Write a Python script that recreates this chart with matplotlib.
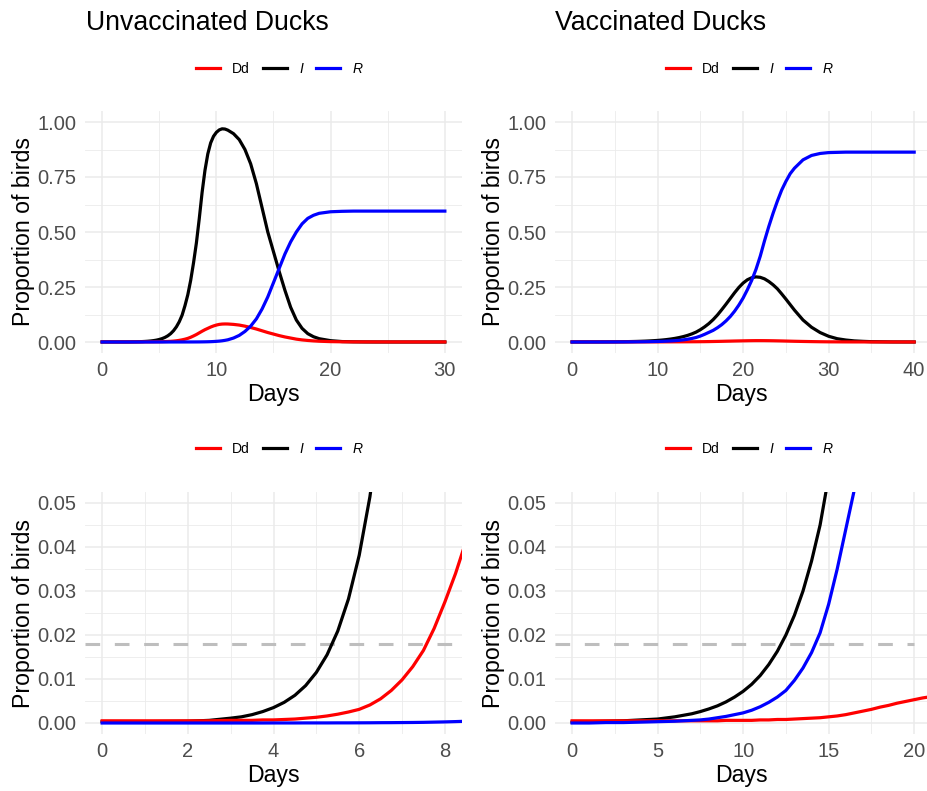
import matplotlib.pyplot as plt
from matplotlib.lines import Line2D
from matplotlib.ticker import FormatStrFormatter

plt.rcParams['font.family'] = ['Liberation Sans', 'DejaVu Sans']

# --- data ---
days_unvax = [0, 1, 2, 2.5,
              3, 3.25, 3.5, 3.75, 4, 4.25, 4.5, 4.75, 5, 5.25, 5.5, 5.75,
              6, 6.25, 6.5, 6.75, 7, 7.25, 7.5, 7.75, 8, 8.25, 8.5, 8.75,
              9, 9.25, 9.5, 9.75, 10, 10.25, 10.5, 10.75, 11,
              11.5, 12, 12.5, 13, 13.5, 14, 14.5, 15, 15.5, 16, 16.5, 17, 17.5, 18, 18.5, 19,
              20, 21, 22, 23, 24, 26, 28, 30]
I_unvax = [0.0003, 0.0003, 0.0004, 0.0006,
           0.0011, 0.0014, 0.0019, 0.0026, 0.0035, 0.0047, 0.0063, 0.0085, 0.0115, 0.0155, 0.0209, 0.0282,
           0.0381, 0.0514, 0.069, 0.092, 0.122, 0.165, 0.215, 0.28, 0.36, 0.45, 0.56, 0.68,
           0.78, 0.855, 0.905, 0.935, 0.953, 0.964, 0.969, 0.968, 0.963,
           0.947, 0.92, 0.875, 0.81, 0.72, 0.61, 0.50, 0.41, 0.32, 0.235, 0.158, 0.10, 0.062, 0.038, 0.024, 0.015,
           0.006, 0.002, 0.0008, 0.0003, 0.0001, 0, 0, 0]
Dd_unvax = [0.0005, 0.0005, 0.0005, 0.0005,
            0.0006, 0.0006, 0.0006, 0.0007, 0.0007, 0.0008, 0.0009, 0.0011, 0.0013, 0.0016, 0.0020, 0.0025,
            0.0031, 0.0041, 0.0055, 0.0074, 0.0098, 0.0128, 0.0165, 0.0215, 0.0275, 0.034, 0.0415, 0.049,
            0.056, 0.062, 0.068, 0.073, 0.077, 0.080, 0.0815, 0.082, 0.0818,
            0.080, 0.077, 0.072, 0.066, 0.059, 0.051, 0.043, 0.036, 0.029, 0.023, 0.018, 0.013, 0.0095, 0.007, 0.005, 0.0035,
            0.0017, 0.0009, 0.0006, 0.0005, 0.0004, 0.0003, 0.0003, 0.0003]
R_unvax = [0, 0, 0, 0,
           0, 0, 0, 0, 0.00001, 0.00001, 0.00001, 0.00002, 0.00002, 0.00002, 0.00003, 0.00003,
           0.00004, 0.00005, 0.00007, 0.00008, 0.0001, 0.00012, 0.00015, 0.0002, 0.00025, 0.00032, 0.0004, 0.0006,
           0.0008, 0.0011, 0.0015, 0.0021, 0.003, 0.004, 0.0055, 0.0075, 0.01,
           0.018, 0.03, 0.048, 0.072, 0.105, 0.15, 0.205, 0.27, 0.335, 0.40, 0.455, 0.50, 0.537, 0.562, 0.576, 0.585,
           0.592, 0.594, 0.595, 0.595, 0.595, 0.595, 0.595, 0.595]

days_vax = [0, 1, 2, 3, 4, 5, 6, 7,
            7.5, 8, 8.5, 9, 9.5, 10, 10.5, 11, 11.5, 12, 12.5, 13, 13.5, 14, 14.5, 15, 15.5, 16, 16.5,
            17, 17.5, 18, 18.5, 19, 19.5, 20, 20.5, 21, 21.5, 22, 22.5, 23, 23.5, 24, 24.5, 25, 25.5, 26,
            27, 28, 29, 30, 31, 32, 33, 34, 35, 37.5, 40]
I_vax = [0.0002, 0.0003, 0.0004, 0.0005, 0.0007, 0.0009, 0.0014, 0.0021,
         0.0026, 0.0032, 0.0039, 0.0048, 0.0059, 0.0072, 0.0088, 0.0108, 0.0133, 0.0163, 0.0200, 0.0245,
         0.030, 0.0368, 0.045, 0.056, 0.069, 0.084, 0.102,
         0.123, 0.147, 0.172, 0.198, 0.224, 0.248, 0.268, 0.283, 0.292, 0.296, 0.294, 0.287, 0.275, 0.26,
         0.242, 0.219, 0.195, 0.17, 0.145,
         0.10, 0.067, 0.043, 0.026, 0.015, 0.009, 0.005, 0.003, 0.0015, 0.0003, 0.0001]
Dd_vax = [0.0005, 0.0005, 0.0005, 0.0005, 0.0005, 0.0005, 0.0005, 0.0005,
          0.0005, 0.0005, 0.0005, 0.0006, 0.0006, 0.0006, 0.0006, 0.0007, 0.0007, 0.0008, 0.0008, 0.0009,
          0.0010, 0.0011, 0.0012, 0.0014, 0.0016, 0.0019, 0.0023,
          0.0027, 0.0031, 0.0036, 0.0040, 0.0045, 0.0049, 0.0053, 0.0057, 0.0060, 0.0062, 0.0062, 0.0061,
          0.0059, 0.0056, 0.0052, 0.0048, 0.0043, 0.0038, 0.0033,
          0.0025, 0.0018, 0.0012, 0.0008, 0.0006, 0.0004, 0.0003, 0.0003, 0.0002, 0.0002, 0.0001]
R_vax = [0, 0, 0.0001, 0.0001, 0.0002, 0.0003, 0.0004, 0.0006,
         0.0007, 0.0009, 0.0012, 0.0015, 0.0019, 0.0023, 0.0029, 0.0037, 0.0047, 0.0059, 0.0074, 0.0097,
         0.0125, 0.016, 0.0205, 0.027, 0.035, 0.044, 0.053,
         0.065, 0.079, 0.096, 0.116, 0.14, 0.168, 0.20, 0.238, 0.28, 0.33, 0.39, 0.46, 0.525, 0.585,
         0.64, 0.69, 0.73, 0.765, 0.79,
         0.828, 0.848, 0.857, 0.861, 0.862, 0.863, 0.863, 0.863, 0.863, 0.863, 0.863]

threshold = 0.018
series_labels = ['Dd', 'I', 'R']
series_colors = ['red', 'black', 'blue']
titles = ['Unvaccinated Ducks', 'Vaccinated Ducks']

W, H = 928, 791
LW = 2.3


def box(l, t, r, b):
    return [l / W, 1 - b / H, (r - l) / W, (b - t) / H]


def style(ax, xlim, xticks, xminor, ylim, yticks, yminor):
    ax.set_xlim(*xlim)
    ax.set_ylim(*ylim)
    ax.set_xticks(xticks)
    ax.set_xticks(xminor, minor=True)
    ax.set_yticks(yticks)
    ax.set_yticks(yminor, minor=True)
    ax.yaxis.set_major_formatter(FormatStrFormatter('%.2f'))
    ax.grid(which='major', color='#EBEBEB', lw=1.1)
    ax.grid(which='minor', color='#EBEBEB', lw=0.6)
    ax.set_axisbelow(True)
    for s in ax.spines.values():
        s.set_visible(False)
    ax.tick_params(which='both', length=0)
    ax.tick_params(labelsize=14.5, labelcolor='#4D4D4D', pad=6)
    ax.set_xlabel('Days', fontsize=16.7, labelpad=2)
    ax.set_ylabel('Proportion of birds', fontsize=16.7, labelpad=2)


def draw(ax, days, dd, inf, rec):
    ax.plot(days, inf, color='black', lw=LW)
    ax.plot(days, dd, color='red', lw=LW)
    ax.plot(days, rec, color='blue', lw=LW)


def legend(center_x, center_y):
    handles = [Line2D([], [], color=c, lw=LW) for c in series_colors]
    leg = fig.legend(handles, series_labels, loc='center', ncol=3,
                     bbox_to_anchor=(center_x / W, 1 - center_y / H),
                     frameon=False, fontsize=10, handlelength=1.75,
                     handletextpad=0.85, columnspacing=0.95, borderpad=0)
    leg.get_texts()[1].set_fontstyle('italic')
    leg.get_texts()[2].set_fontstyle('italic')


fig = plt.figure(figsize=(W / 100, H / 100), dpi=100)

ax1 = fig.add_axes(box(85, 111, 462, 353))
draw(ax1, days_unvax, Dd_unvax, I_unvax, R_unvax)
style(ax1, (-1.5, 31.5), [0, 10, 20, 30], [5, 15, 25],
      (-0.05, 1.05), [0, 0.25, 0.5, 0.75, 1.0], [0.125, 0.375, 0.625, 0.875])

ax2 = fig.add_axes(box(555, 111, 927, 353))
draw(ax2, days_vax, Dd_vax, I_vax, R_vax)
style(ax2, (-2, 41.5), [0, 10, 20, 30, 40], [5, 15, 25, 35],
      (-0.05, 1.05), [0, 0.25, 0.5, 0.75, 1.0], [0.125, 0.375, 0.625, 0.875])

ax3 = fig.add_axes(box(85, 492, 462, 734))
ax3.axhline(threshold, color='#BEBEBE', lw=2.2, dashes=(4.8, 4.8))
draw(ax3, days_unvax, Dd_unvax, I_unvax, R_unvax)
style(ax3, (-0.4, 8.4), [0, 2, 4, 6, 8], [1, 3, 5, 7],
      (-0.0025, 0.0525), [0, 0.01, 0.02, 0.03, 0.04, 0.05],
      [0.005, 0.015, 0.025, 0.035, 0.045])

ax4 = fig.add_axes(box(555, 492, 927, 734))
x0, x1 = -1, 20.75
ax4.axhline(threshold, xmin=0, xmax=(20 - x0) / (x1 - x0),
            color='#BEBEBE', lw=2.2, dashes=(4.8, 4.8))
draw(ax4, days_vax, Dd_vax, I_vax, R_vax)
style(ax4, (x0, x1), [0, 5, 10, 15, 20], [2.5, 7.5, 12.5, 17.5],
      (-0.0025, 0.0525), [0, 0.01, 0.02, 0.03, 0.04, 0.05],
      [0.005, 0.015, 0.025, 0.035, 0.045])

fig.text(86 / W, 1 - 29.5 / H, titles[0], fontsize=19.2, va='baseline')
fig.text(555 / W, 1 - 29.5 / H, titles[1], fontsize=19.2, va='baseline')

legend(85 + 194, 69)
legend(555 + 194, 69)
legend(85 + 194, 449)
legend(555 + 194, 449)

fig.savefig('out.png', dpi=100)
